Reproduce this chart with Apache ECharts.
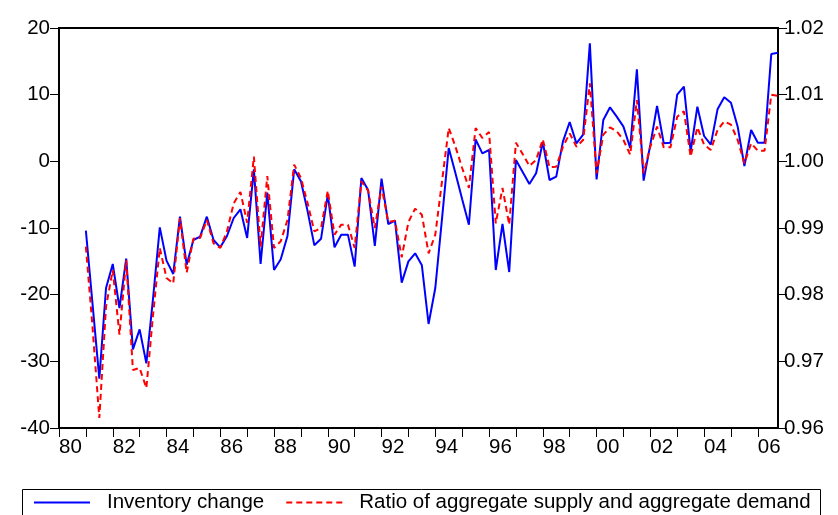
<!DOCTYPE html>
<html>
<head>
<meta charset="utf-8">
<script src="https://cdn.jsdelivr.net/npm/echarts@6/dist/echarts.min.js"></script>
<style>
html,body{margin:0;padding:0;background:#fff;}
#c{width:838px;height:515px;}
</style>
</head>
<body>
<div id="c"></div>
<script>
// Quarterly categories 1980Q1 .. 2006Q4 (data starts 1981Q1)
const startYear = 1980, endYear = 2006;
const categories = [];
for (let y = startYear; y <= endYear; y++) for (let q = 1; q <= 4; q++) categories.push(y + 'Q' + q);

// Inventory change (left axis), 1981Q1 .. 2006Q4
const inventoryChange = [
  -10.4, -21.5, -32.6, -19.0, -15.4, -22.0, -14.6, -28.2,
  -25.2, -30.3, -20.5, -9.9, -14.9, -16.9, -8.3, -15.5,
  -11.8, -11.3, -8.3, -11.8, -12.9, -11.2, -8.5, -7.2,
  -11.5, -1.2, -15.4, -4.7, -16.3, -14.7, -11.2, -1.2,
  -3.0, -7.5, -12.6, -11.6, -5.0, -12.9, -11.0, -11.0,
  -15.8, -2.5, -4.3, -12.7, -2.6, -9.4, -8.9, -18.2,
  -15.0, -13.8, -15.6, -24.4, -19.0, -8.6, 2.0, -1.8,
  -5.7, -9.5, 3.3, 1.2, 1.7, -16.3, -9.4, -16.6,
  0.2, -1.6, -3.4, -1.8, 2.9, -2.8, -2.3, 3.0,
  5.9, 2.7, 4.0, 17.7, -2.7, 6.2, 8.1, 6.7,
  5.2, 2.0, 13.8, -2.9, 2.5, 8.3, 2.7, 2.8,
  10.0, 11.2, 1.5, 8.2, 3.8, 2.5, 7.8, 9.6,
  8.8, 5.2, -0.7, 4.7, 2.8, 2.8, 16.1, 16.3
];

// Ratio of aggregate supply and aggregate demand (right axis), 1981Q1 .. 2006Q4
const supplyDemandRatio = [
  0.9872, 0.9750, 0.9615, 0.9782, 0.9837, 0.9740, 0.9852, 0.9687,
  0.9690, 0.9660, 0.9770, 0.9870, 0.9825, 0.9817, 0.9915, 0.9833,
  0.9884, 0.9885, 0.9912, 0.9877, 0.9870, 0.9895, 0.9937, 0.9954,
  0.9908, 1.0007, 0.9872, 0.9978, 0.9870, 0.9880, 0.9912, 0.9995,
  0.9975, 0.9937, 0.9895, 0.9900, 0.9956, 0.9890, 0.9905, 0.9905,
  0.9870, 0.9970, 0.9956, 0.9900, 0.9962, 0.9909, 0.9911, 0.9856,
  0.9909, 0.9929, 0.9920, 0.9862, 0.9890, 0.9970, 1.0050, 1.0022,
  0.9990, 0.9960, 1.0050, 1.0035, 1.0044, 0.9907, 0.9960, 0.9905,
  1.0028, 1.0011, 0.9993, 1.0002, 1.0033, 0.9991, 0.9992, 1.0022,
  1.0042, 1.0022, 1.0032, 1.0117, 0.9982, 1.0040, 1.0051, 1.0045,
  1.0032, 1.0010, 1.0092, 0.9982, 1.0022, 1.0052, 1.0021, 1.0021,
  1.0067, 1.0075, 1.0007, 1.0051, 1.0025, 1.0017, 1.0047, 1.0060,
  1.0055, 1.0032, 0.9997, 1.0027, 1.0016, 1.0016, 1.0100, 1.0098
];

const leftTicks = { min: -40, max: 20, interval: 10 };
const rightTicks = { min: 0.96, max: 1.02, interval: 0.01 };

const lead = categories.length - inventoryChange.length; // empty quarters before data
const pad = n => Array(n).fill(null);
const invData = pad(lead).concat(inventoryChange);
const ratioData = pad(lead).concat(supplyDemandRatio);

const FONT = 'Liberation Sans';
const chart = echarts.init(document.getElementById('c'));
chart.setOption({
  animation: false,
  backgroundColor: '#fff',
  grid: { left: 59, right: 60, top: 28, bottom: 87, show: true, borderColor: '#000', borderWidth: 2 },
  xAxis: {
    type: 'category',
    data: categories,
    boundaryGap: false,
    axisLine: { onZero: false, lineStyle: { color: '#000', width: 2 } },
    axisTick: { length: 9, lineStyle: { color: '#000', width: 1 }, interval: (i) => i % 4 === 0 },
    axisLabel: {
      interval: (i) => i % 8 === 0,
      formatter: (v) => v.slice(2, 4),
      align: 'left',
      color: '#000', fontFamily: FONT, fontSize: 20.5, margin: 9
    },
    splitLine: { show: false }
  },
  yAxis: [
    {
      type: 'value', position: 'left',
      min: leftTicks.min, max: leftTicks.max, interval: leftTicks.interval,
      axisLine: { show: true, lineStyle: { color: '#000', width: 2 } },
      axisTick: { show: true, length: 9, lineStyle: { color: '#000' } },
      axisLabel: { color: '#000', fontFamily: FONT, fontSize: 20.5, margin: 9 },
      splitLine: { show: false }
    },
    {
      type: 'value', position: 'right',
      min: rightTicks.min, max: rightTicks.max, interval: rightTicks.interval,
      axisLine: { show: true, lineStyle: { color: '#000', width: 2 } },
      axisTick: { show: true, length: 9, lineStyle: { color: '#000' } },
      axisLabel: { color: '#000', fontFamily: FONT, fontSize: 20.5, margin: 6, formatter: (v) => v.toFixed(2) },
      splitLine: { show: false }
    }
  ],
  graphic: [
    { type: 'rect', left: 20, top: 487, shape: { width: 798, height: 40 },
      style: { fill: 'none', stroke: '#000', lineWidth: 1 }, silent: true }
  ],
  legend: {
    left: 33, top: 492,
    padding: [0, 0, 0, 0],
    itemWidth: 56, itemHeight: 12, itemGap: 21,
    itemStyle: { color: 'transparent', borderWidth: 0, opacity: 0 },
    textStyle: { color: '#000', fontFamily: FONT, fontSize: 20.5, padding: [0, 0, 0, 12] },
    data: ['Inventory change', 'Ratio of aggregate supply and aggregate demand']
  },
  series: [
    {
      name: 'Inventory change', type: 'line', yAxisIndex: 0,
      data: invData, symbol: 'none', connectNulls: false,
      lineStyle: { color: '#0000ff', width: 2 }, itemStyle: { color: '#0000ff' }
    },
    {
      name: 'Ratio of aggregate supply and aggregate demand', type: 'line', yAxisIndex: 1,
      data: ratioData, symbol: 'none',
      lineStyle: { color: '#ff0000', width: 2, type: [6, 4] }, itemStyle: { color: '#ff0000' }
    }
  ]
});
</script>
</body>
</html>
